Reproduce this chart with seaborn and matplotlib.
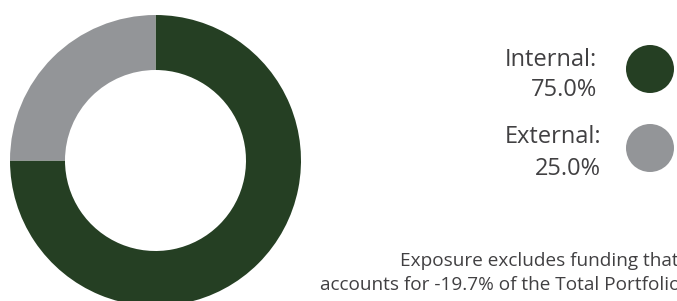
import matplotlib
matplotlib.use("Agg")
import matplotlib.pyplot as plt
import seaborn as sns
import pandas as pd

# Data
categories = ["Internal", "External"]
values = [75.0, 25.0]
colors = ["#253F23", "#939598"]
note_lines = ["Exposure excludes funding that", "accounts for -19.7% of the Total Portfolio."]

sns.set_theme(style="white")
plt.rcParams["font.family"] = ["Open Sans", "DejaVu Sans"]

W, H = 677, 301
fig = plt.figure(figsize=(W / 100, H / 100), dpi=100)
fig.patch.set_facecolor("white")

# Donut axes (pixel-positioned)
cx, cy, R = 155.5, 160.5, 145.5
ax = fig.add_axes([(cx - R) / W, (H - cy - R) / H, 2 * R / W, 2 * R / H])
ax.pie(values, colors=colors, startangle=90, counterclock=False,
       radius=1.0, wedgeprops=dict(width=1 - 90.5 / 145.5, linewidth=0))
ax.set_xlim(-1, 1)
ax.set_ylim(-1, 1)
ax.set_aspect("equal")
ax.axis("off")

# Overlay axes in pixel coordinates for legend + notes
ov = fig.add_axes([0, 0, 1, 1])
leg = pd.DataFrame({"cat": categories, "x": [650, 650], "y": [69, 148]})
sns.scatterplot(data=leg, x="x", y="y", hue="cat", palette=colors, s=(48 * 0.72) ** 2,
                linewidth=0, legend=False, ax=ov)
ov.set_xlim(0, W)
ov.set_ylim(H, 0)
ov.axis("off")

txt_color = "#414042"
fs = 17
label_pos = [(597, 66, 96), (601, 143, 175)]
for (cat, val), (rx, y1, y2) in zip(zip(categories, values), label_pos):
    ov.text(rx, y1, f"{cat}:", ha="right", va="baseline", fontsize=fs, color=txt_color)
    ov.text(rx, y2, f"{val:.1f}%", ha="right", va="baseline", fontsize=fs, color=txt_color)

ov.text(400, 266, note_lines[0], ha="left", va="baseline", fontsize=13.7, color=txt_color)
ov.text(320, 290, note_lines[1], ha="left", va="baseline", fontsize=13.7, color=txt_color)

fig.savefig("out.png", dpi=100, facecolor="white")
